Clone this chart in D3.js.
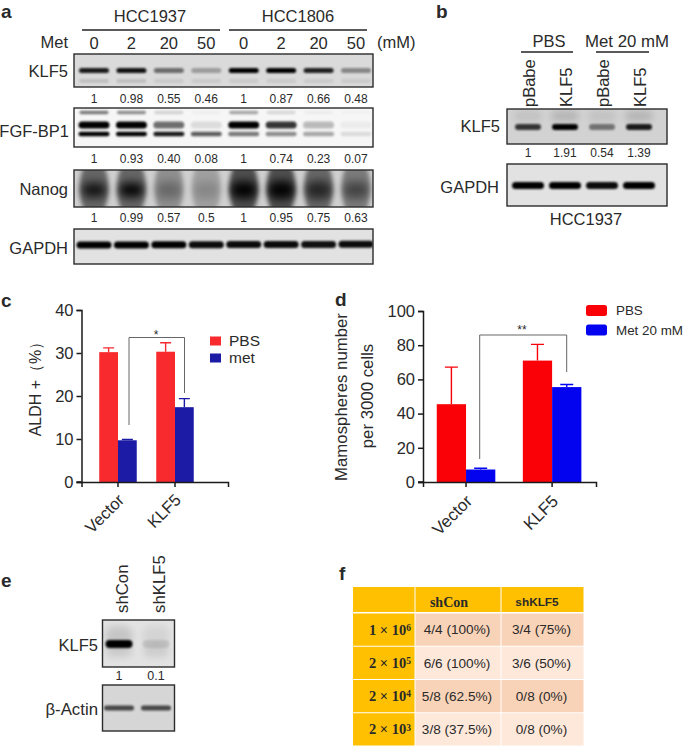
<!DOCTYPE html>
<html>
<head>
<meta charset="utf-8">
<script src="https://cdn.jsdelivr.net/npm/d3@7"></script>
<style>
  html, body { margin: 0; padding: 0; background: #fff; }
  text { font-family: "Liberation Sans", Arial, sans-serif; fill: #2a2a2a; }
  .axis path, .axis line { stroke: #1a1a1a; stroke-width: 1.5px; }
  .axis text { font-size: 16.5px; fill: #2a2a2a; }
</style>
</head>
<body>
<svg class="fig" width="685" height="748"></svg>
<script>
// panel a
var metDoses = ["0", "2", "20", "50", "0", "2", "20", "50"];
var klf5Ratios = ["1", "0.98", "0.55", "0.46", "1", "0.87", "0.66", "0.48"];
var fgfRatios = ["1", "0.93", "0.40", "0.08", "1", "0.74", "0.23", "0.07"];
var nanogRatios = ["1", "0.99", "0.57", "0.5", "1", "0.95", "0.75", "0.63"];
var klf5Main = [0.88, 0.92, 0.5, 0.28, 1, 1, 0.85, 0.38];
var klf5Faint = [0.12, 0.12, 0.07, 0.07, 0.07, 0.07, 0.07, 0.07];
var fgfTop = [0.5, 0.42, 0.14, 0.03, 0.32, 0.12, 0.04, 0.02];
var fgfUpper = [1, 1, 0.55, 0.1, 1, 0.78, 0.24, 0.04];
var fgfLower = [1, 1, 0.9, 0.62, 0.5, 0.42, 0.32, 0.1];
var nanogBack = [0.5, 0.5, 0.3, 0.22, 0.62, 0.62, 0.5, 0.4];
var nanogSmear = [0.3, 0.35, 0.14, 0.08, 0.5, 0.55, 0.35, 0.22];
var nanogCore = [0.7, 0.9, 0.15, 0.08, 1, 1, 0.45, 0.3];
var gapdhA = [1, 1, 1, 0.95, 0.95, 0.95, 0.92, 0.95];
// panel b
var bLanes = ["pBabe", "KLF5", "pBabe", "KLF5"];
var bRatios = ["1", "1.91", "0.54", "1.39"];
var bKlf5 = [0.75, 1, 0.45, 0.88];
var bGapdh = [1, 1, 0.95, 1];
// panel c
var cGroups = ["Vector", "KLF5"];
var cSeries = ["PBS", "met"];
var cPbs = [30.2, 30.3];
var cMet = [9.7, 17.4];
var cPbsTop = [31.2, 32.4];
var cMetTop = [9.9, 19.4];
var cTicks = [0, 10, 20, 30, 40];
// panel d
var dGroups = ["Vector", "KLF5"];
var dSeries = ["PBS", "Met 20 mM"];
var dPbs = [45.5, 71];
var dMet = [7.3, 55.5];
var dPbsTop = [67.2, 80.5];
var dMetTop = [8, 57];
var dTicks = [0, 20, 40, 60, 80, 100];
// panel e
var eLanes = ["shCon", "shKLF5"];
var eRatios = ["1", "0.1"];
var eKlf5 = [1, 0.1];
var eActin = [0.68, 0.68];
// panel f
var fColumns = ["shCon", "shKLF5"];
var fRows = [["1", "6"], ["2", "5"], ["2", "4"], ["2", "3"]];
var fShCon = ["4/4 (100%)", "6/6 (100%)", "5/8 (62.5%)", "3/8 (37.5%)"];
var fShKlf5 = ["3/4 (75%)", "3/6 (50%)", "0/8 (0%)", "0/8 (0%)"];

var svg = d3.select(".fig");
var defs = svg.append("defs");
[0.8, 1.3, 2, 3.5, 6].forEach(function(s) {
  defs.append("filter").attr("id", "blur" + ("" + s).replace(".", "_"))
      .attr("x", "-30%").attr("y", "-150%").attr("width", "160%").attr("height", "400%")
    .append("feGaussianBlur").attr("stdDeviation", s);
});
function blurId(s) { return "url(#blur" + ("" + s).replace(".", "_") + ")"; }

var alpha = d3.scaleLinear().domain([0, 1]).range([0, 1]);
var blotCount = 0;

function label(x, y, txt, size, anchor, weight) {
  return svg.append("text")
      .attr("x", x).attr("y", y).attr("dy", "0.35em")
      .style("font-size", size + "px")
      .style("text-anchor", anchor || "middle")
      .style("font-weight", weight || "normal")
      .text(txt);
}

function rotLabel(x, y, txt, size, angle, anchor) {
  return svg.append("text")
      .attr("transform", "translate(" + x + "," + y + ") rotate(" + angle + ")")
      .attr("dy", "0.35em")
      .style("font-size", size + "px")
      .style("text-anchor", anchor || "start")
      .text(txt);
}

// one blot: grey box, blurred bands per lane
function drawBlot(box, bg, lane, bands) {
  blotCount++;
  var id = "clip" + blotCount;
  defs.append("clipPath").attr("id", id).append("rect")
      .attr("x", box.x0).attr("y", box.y0)
      .attr("width", box.x1 - box.x0).attr("height", box.y1 - box.y0);
  var g = svg.append("g").attr("clip-path", "url(#" + id + ")");
  g.append("rect")
      .attr("x", box.x0).attr("y", box.y0)
      .attr("width", box.x1 - box.x0).attr("height", box.y1 - box.y0)
      .attr("fill", bg);
  bands.forEach(function(b) {
    g.selectAll(null).data(b.values).enter().append("rect")
        .attr("x", function(d, i) { return lane(i) - b.w / 2; })
        .attr("y", function(d, i) { return b.y - b.h / 2 + (b.slope ? b.slope * i : 0); })
        .attr("width", b.w)
        .attr("height", b.h)
        .attr("rx", b.h / 2)
        .attr("fill", "#000")
        .attr("opacity", function(d) { return alpha(d); })
        .attr("filter", blurId(b.blur));
  });
  svg.append("rect")
      .attr("x", box.x0).attr("y", box.y0)
      .attr("width", box.x1 - box.x0).attr("height", box.y1 - box.y0)
      .attr("fill", "none").attr("stroke", "#2b2b2b").attr("stroke-width", 1.4);
}

function ratioRow(lane, y, vals, size) {
  svg.append("g").selectAll("text").data(vals).enter().append("text")
      .attr("x", function(d, i) { return lane(i); })
      .attr("y", y).attr("dy", "0.35em")
      .style("font-size", size + "px")
      .style("text-anchor", "middle")
      .text(function(d) { return d; });
}

function rule(x0, x1, y, w, col) {
  svg.append("line").attr("x1", x0).attr("x2", x1).attr("y1", y).attr("y2", y)
      .attr("stroke", col || "#222").attr("stroke-width", w || 1.3);
}

// ---------- a
label(1, 11, "a", 19, "start", "bold");
var laneA = d3.scalePoint().domain(d3.range(8)).range([94, 356]);
label(150, 16, "HCC1937", 16.5);
label(298, 16, "HCC1806", 16.5);
rule(82, 220, 30);
rule(229, 367, 30);
label(68, 42, "Met", 16.5, "end");
metDoses.forEach(function(d, i) { label(laneA(i), 43, d, 16.5); });
label(377, 42, "(mM)", 16.5, "start");

label(68, 71, "KLF5", 16.5, "end");
drawBlot({x0: 74, x1: 373, y0: 54, y1: 87}, "#dadada", laneA, [
  {values: klf5Faint, y: 81, h: 4, w: 30, blur: 1.3},
  {values: klf5Main, y: 70.5, h: 5, w: 30, blur: 1.3}
]);
ratioRow(laneA, 99, klf5Ratios, 12);

label(69, 131, "FGF-BP1", 16.5, "end");
drawBlot({x0: 74, x1: 373, y0: 108, y1: 147}, "#f6f6f6", laneA, [
  {values: fgfTop, y: 112.5, h: 3.5, w: 29, blur: 1.3},
  {values: fgfUpper, y: 125, h: 7, w: 31, blur: 1.3},
  {values: fgfLower, y: 134, h: 4.5, w: 31, blur: 1.3}
]);
ratioRow(laneA, 159, fgfRatios, 12);

label(68, 189, "Nanog", 16.5, "end");
drawBlot({x0: 74, x1: 373, y0: 170, y1: 207}, "#cfcfcf", laneA, [
  {values: nanogBack, y: 188, h: 60, w: 29, blur: 2},
  {values: nanogSmear, y: 190, h: 22, w: 28, blur: 3.5},
  {values: nanogCore, y: 190, h: 10, w: 20, blur: 3.5}
]);
ratioRow(laneA, 218, nanogRatios, 12);

label(68, 248, "GAPDH", 16.5, "end");
drawBlot({x0: 74, x1: 373, y0: 229, y1: 264}, "#e2e2e2", laneA, [
  {values: gapdhA, y: 245, h: 7, w: 35, blur: 1.3, slope: -0.1}
]);

// ---------- b
label(436, 11, "b", 19, "start", "bold");
var laneB = d3.scalePoint().domain(d3.range(4)).range([528, 639]);
label(549, 41, "PBS", 16.5);
label(627, 41, "Met 20 mM", 16.8);
rule(521, 573, 52);
rule(596, 649, 52);
bLanes.forEach(function(d, i) { rotLabel(laneB(i) + 1, 107, d, 16.5, -90); });
label(500, 126, "KLF5", 16.5, "end");
drawBlot({x0: 507, x1: 667, y0: 109, y1: 144}, "#d2d2d2", laneB, [
  {values: [0.08, 0.14, 0.08, 0.14], y: 116, h: 10, w: 28, blur: 3.5},
  {values: bKlf5, y: 127, h: 6, w: 26, blur: 1.3}
]);
ratioRow(laneB, 153, bRatios, 12);
label(499, 187, "GAPDH", 16.5, "end");
drawBlot({x0: 507, x1: 667, y0: 164, y1: 206}, "#e2e2e2", laneB, [
  {values: bGapdh, y: 185.5, h: 7, w: 32, blur: 1.3}
]);
label(586, 219, "HCC1937", 16.5);

// ---------- bar charts
function barChart(o) {
  var g = svg.append("g");
  var y = d3.scaleLinear().domain(o.yDomain).range([482, o.yTop]);
  var x = d3.scaleBand().domain(o.groups).range(o.xRange)
      .paddingInner(0).paddingOuter(o.outer).align(o.align);
  var sub = d3.scaleBand().domain(o.series).range([0, x.bandwidth()])
      .paddingInner(0).paddingOuter(o.subOuter);

  o.series.forEach(function(s, si) {
    var vals = si == 0 ? o.first : o.second;
    var tops = si == 0 ? o.firstTop : o.secondTop;
    var grp = g.append("g").attr("fill", o.colors[si]);
    grp.selectAll("rect").data(vals).enter().append("rect")
        .attr("x", function(d, i) { return x(o.groups[i]) + sub(s); })
        .attr("y", function(d) { return y(d); })
        .attr("width", sub.bandwidth())
        .attr("height", function(d) { return y(0) - y(d); });
    // error bars
    grp.selectAll("path").data(tops).enter().append("path")
        .attr("fill", "none").attr("stroke", o.colors[si]).attr("stroke-width", 1.4)
        .attr("d", function(d, i) {
          var cx = x(o.groups[i]) + sub(s) + sub.bandwidth() / 2;
          return "M" + cx + "," + y(vals[i]) + "V" + y(d) +
                 "M" + (cx - o.cap) + "," + y(d) + "H" + (cx + o.cap);
        });
  });

  g.append("g").attr("class", "axis")
      .attr("transform", "translate(" + o.xRange[0] + ",0)")
      .call(d3.axisLeft(y).tickValues(o.ticks).tickSizeOuter(0).tickSize(5).tickPadding(3));
  g.append("g").attr("class", "axis")
      .attr("transform", "translate(0,482)")
      .call(d3.axisBottom(x).tickSizeOuter(0).tickSize(5).tickFormat(""));
  // baseline runs under the y ticks too
  rule(o.xRange[0] - 5, o.xRange[0], 482, 1.5, "#1a1a1a");

  o.groups.forEach(function(d) {
    rotLabel(x(d) + x.bandwidth() / 2 + o.labelDx, o.labelY, d, o.labelSize, -45, "end");
  });
  return {x: x, y: y, sub: sub};
}

function bracket(x0, y0, yMid, x1, y1, star, starX, starY) {
  svg.append("path")
      .attr("fill", "none").attr("stroke", "#666").attr("stroke-width", 1)
      .attr("d", "M" + x0 + "," + y0 + "V" + yMid + "H" + x1 + "V" + y1);
  label(starX, starY, star, 12);
}

function legend(x, ys, names, colors, rw, rh, rx, tx, size) {
  names.forEach(function(n, i) {
    svg.append("rect").attr("x", x).attr("y", ys[i] - rh / 2)
        .attr("width", rw).attr("height", rh).attr("rx", rx).attr("fill", colors[i]);
    label(tx, ys[i], n, size, "start");
  });
}

// c
label(1, 300, "c", 19, "start", "bold");
barChart({
  yDomain: [0, 40], yTop: 310, xRange: [81.5, 228], outer: 0.285, align: 0.246, subOuter: 0.52,
  groups: cGroups, series: cSeries, first: cPbs, second: cMet, firstTop: cPbsTop, secondTop: cMetTop,
  ticks: cTicks, colors: ["#f82a2e", "#1b1ba5"], cap: 5.5, labelDx: 3, labelY: 497, labelSize: 16.5
});
rotLabel(35, 385, "ALDH +（%）", 16, -90, "middle");
bracket(129, 425, 337.5, 184.5, 393, "*", 156, 335);
legend(210, [341, 358], cSeries, ["#f82a2e", "#1b1ba5"], 11, 9, 0, 229, 15.5);

// d
label(335, 299, "d", 19, "start", "bold");
barChart({
  yDomain: [0, 100], yTop: 311, xRange: [423, 596], outer: 0.005, align: 0, subOuter: 0.47,
  groups: dGroups, series: dSeries, first: dPbs, second: dMet, firstTop: dPbsTop, secondTop: dMetTop,
  ticks: dTicks, colors: ["#fa0007", "#0303f0"], cap: 6.5, labelDx: 3, labelY: 498, labelSize: 17
});
rotLabel(341, 397, "Mamospheres number", 16.8, -90, "middle");
rotLabel(367, 396, "per 3000 cells", 16.8, -90, "middle");
bracket(479.7, 459, 335, 566.7, 372, "**", 522, 330);
legend(586, [310.5, 330], dSeries, ["#fa0007", "#0303f0"], 21, 11, 2.5, 616, 13.4);

// ---------- e
label(1, 580, "e", 19, "start", "bold");
var laneE = d3.scalePoint().domain(d3.range(2)).range([119, 156]);
eLanes.forEach(function(d, i) { rotLabel(laneE(i) + 3, 613, d, 16.8, -90); });
label(98, 645, "KLF5", 16.5, "end");
drawBlot({x0: 102.5, x1: 174.5, y0: 620, y1: 667}, "#e2e2e2", laneE, [
  {values: [0.12, 0.06], y: 636, h: 20, w: 28, blur: 3.5},
  {values: [0.1, 0.09], y: 651, h: 12, w: 26, blur: 3.5},
  {values: eKlf5, y: 644, h: 8, w: 27, blur: 1.3}
]);
ratioRow(laneE, 676, eRatios, 12.5);
label(98, 709, "β-Actin", 16.8, "end");
drawBlot({x0: 102.5, x1: 174.5, y0: 685, y1: 731}, "#d6d6d6", laneE, [
  {values: eActin, y: 708, h: 5, w: 30, blur: 1.3}
]);

// ---------- f
label(339, 573, "f", 19, "start", "bold");
var rowY = d3.scaleBand().domain(d3.range(4)).range([613, 746]);
var colX = d3.scaleOrdinal().domain(fColumns).range([415, 501]);
var colW = d3.scaleOrdinal().domain(fColumns).range([86, 83]);
var gf = svg.append("g");
gf.append("rect").attr("x", 353).attr("y", 587).attr("width", 231).attr("height", 159).attr("fill", "#fff");
gf.append("rect").attr("x", 353).attr("y", 587).attr("width", 61.5).attr("height", 25).attr("fill", "#fec000");
fColumns.forEach(function(c, ci) {
  gf.append("rect").attr("x", colX(c) + 0.5).attr("y", 587)
      .attr("width", colW(c) - 1).attr("height", 25).attr("fill", "#fec000");
  var vals = ci == 0 ? fShCon : fShKlf5;
  gf.selectAll(null).data(vals).enter().append("rect")
      .attr("x", colX(c) + 0.5)
      .attr("y", function(d, i) { return rowY(i) + 0.5; })
      .attr("width", colW(c) - 1)
      .attr("height", rowY.bandwidth() - 1)
      .attr("fill", function(d, i) { return i % 2 == 0 ? "#f9d3b8" : "#fde8da"; });
  gf.selectAll(null).data(vals).enter().append("text")
      .attr("x", colX(c) + colW(c) / 2 - 1)
      .attr("y", function(d, i) { return rowY(i) + rowY.bandwidth() / 2; })
      .attr("dy", "0.35em")
      .style("font-size", "13.6px").style("text-anchor", "middle")
      .text(function(d) { return d; });
});
gf.selectAll(null).data(fRows).enter().append("rect")
    .attr("x", 353)
    .attr("y", function(d, i) { return rowY(i) + 0.5; })
    .attr("width", 61.5)
    .attr("height", rowY.bandwidth() - 1)
    .attr("fill", "#fec000");
gf.selectAll(null).data(fRows).enter().append("text")
    .attr("x", 411)
    .attr("y", function(d, i) { return rowY(i) + rowY.bandwidth() / 2; })
    .attr("dy", "0.35em")
    .style("font-family", "'Liberation Serif', serif")
    .style("font-weight", "bold")
    .style("font-size", "14.5px")
    .style("text-anchor", "end")
    .each(function(d) {
      var t = d3.select(this);
      t.append("tspan").text(d[0] + " × 10");
      t.append("tspan").attr("dy", "-0.4em").style("font-size", "9.5px").text(d[1]);
    });
label(449, 602, "shCon", 14, "middle", "bold").style("font-family", "'Liberation Serif', serif");
label(537, 602, "shKLF5", 11.8, "middle", "bold");
</script>
</body>
</html>
